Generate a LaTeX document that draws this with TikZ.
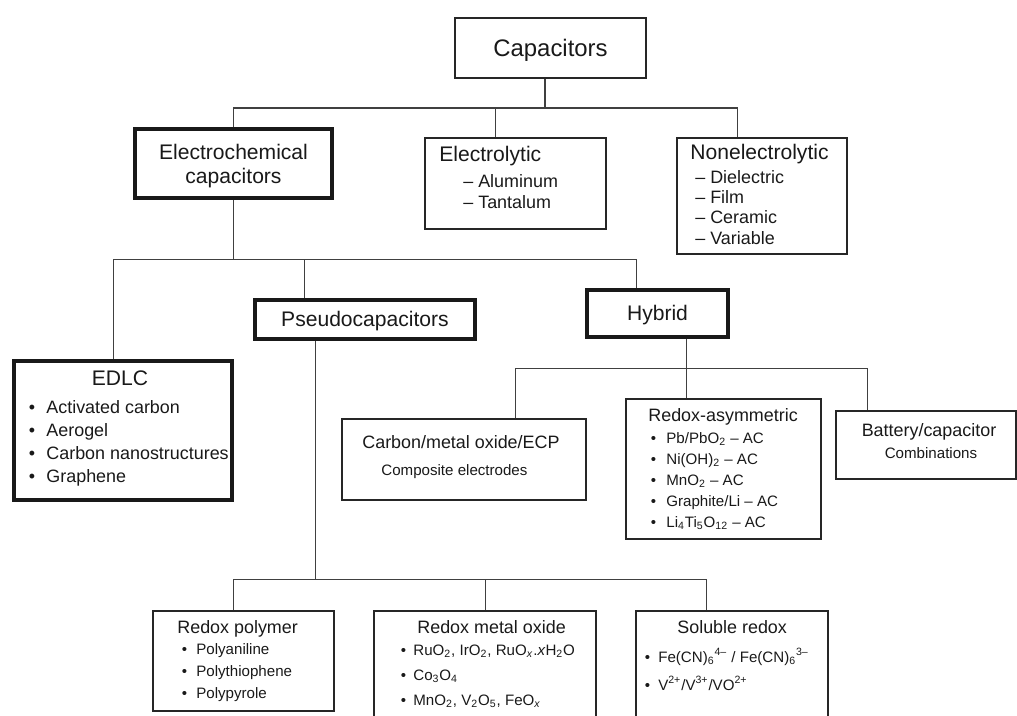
\documentclass[tikz,border=0pt]{standalone}
\usepackage{fontspec}
\setmainfont{Liberation Sans}
\usetikzlibrary{fit,calc}

\tikzset{
  box/.style={draw=black!85, line width=0.7pt, inner sep=0pt},
  heavybox/.style={draw=black!90, line width=2pt, inner sep=0pt},
  conn/.style={draw=black!75, line width=0.7pt},
  txt/.style={inner sep=0pt, anchor=base west, text=black!90},
  ctxt/.style={inner sep=0pt, anchor=base, text=black!90},
  mtxt/.style={inner sep=0pt, text=black!90},
  fCap/.style={font=\fontsize{13.6}{16}\selectfont},
  fHead/.style={font=\fontsize{12}{13.7}\selectfont},
  fItem/.style={font=\fontsize{10.2}{12}\selectfont},
  fSmall/.style={font=\fontsize{8.6}{10}\selectfont},
}
\newcommand{\bl}[1]{\makebox[#1][l]{\textbullet}}

\begin{document}
\begin{tikzpicture}[x=0.02cm, y=-0.02cm]
  \useasboundingbox (0,0) rectangle (1017,716);
  \clip (0,0) rectangle (1017,716);

  % === top: capacitors ===
  \node[box, fit={(455,18) (646,78)}] (cap) {};
  \node[mtxt, fCap] (cap-t) at ($(cap.center)+(0,2)$) {Capacitors};

  \node[heavybox, fit={(135,129) (332,198)}] (ec) {};
  \node[mtxt, fHead, align=center] (ec-t) at ($(ec.center)+(0,3)$) {Electrochemical\\capacitors};

  \node[box, fit={(425,138) (606,229)}] (el) {};
  \node[txt, fHead] (el-t) at (439,162) {Electrolytic};
  \foreach \t [count=\i] in {Aluminum, Tantalum}
    \node[txt, fItem] (el-\i) at (463,167+21*\i) {– \t};

  \node[box, fit={(677,138) (847,254)}] (nel) {};
  \node[txt, fHead] (nel-t) at (690,159.5) {Nonelectrolytic};
  \foreach \t [count=\i] in {Dielectric, Film, Ceramic, Variable}
    \node[txt, fItem] (nel-\i) at (695,163+20.3*\i) {– \t};

  \coordinate (j1) at (545,108);
  \coordinate (el-in) at ($(el.north west)+(71,0)$);
  \coordinate (nel-in) at ($(nel.north west)+(61,0)$);
  \draw[conn] (cap.south -| j1) -- (j1);
  \draw[conn] (ec.north) |- (j1) -| (nel-in);
  \draw[conn] (el-in) -- (el-in |- j1);

  % === electrochemical capacitors ===
  \node[heavybox, fit={(14,361) (232,500)}] (edlc) {};
  \node[ctxt, fHead] (edlc-t) at (120,385.5) {EDLC};
  \foreach \t [count=\i] in {Activated carbon, Aerogel, Carbon nanostructures, Graphene}
    \node[txt, fItem] (edlc-\i) at (28.5,390.5+23*\i) {\bl{10pt}\t};

  \node[heavybox, fit={(255,300) (475,339)}] (pc) {};
  \node[mtxt, fHead] (pc-t) at ($(pc.center)+(0,2)$) {Pseudocapacitors};

  \node[heavybox, fit={(587,290) (728,337)}] (hy) {};
  \node[mtxt, fHead] (hy-t) at ($(hy.center)+(0,2)$) {Hybrid};

  \draw[conn] (ec.south) -- ++(0,60) coordinate (j2);
  \coordinate (edlc-in) at ($(edlc.north west)+(101,0)$);
  \coordinate (pc-in) at ($(pc.north west)+(51,0)$);
  \coordinate (hy-in) at ($(hy.north west)+(51,0)$);
  \draw[conn] (edlc-in) |- (j2) -| (hy-in);
  \draw[conn] (pc-in) -- (pc-in |- j2);

  % === hybrid ===
  \node[box, fit={(342,419) (586,500)}] (cmo) {};
  \node[txt, fItem] (cmo-t) at (362,448.3) {Carbon/metal oxide/ECP};
  \node[txt, fSmall] (cmo-s) at (381,475.4) {Composite electrodes};

  \node[box, fit={(626,399) (821,539)}] (ra) {};
  \node[txt, fItem] (ra-t) at (648,421.4) {Redox-asymmetric};
  \foreach \t [count=\i] in {Pb/PbO\textsubscript{2} – AC, Ni(OH)\textsubscript{2} – AC, MnO\textsubscript{2} – AC, Graphite/Li – AC, Li\textsubscript{4}Ti\textsubscript{5}O\textsubscript{12} – AC}
    \node[txt, fSmall] (ra-\i) at (650.4,422.5+21*\i) {\bl{8.9pt}\t};

  \node[box, fit={(836,411) (1016,479)}] (bc) {};
  \node[ctxt, fItem] (bc-t) at (929,436.4) {Battery/capacitor};
  \node[ctxt, fSmall] (bc-s) at (931,458.4) {Combinations};

  \coordinate (hy-out) at ($(hy.south west)+(101,0)$);
  \draw[conn] (hy-out) -- ++(0,30) coordinate (j3);
  \coordinate (cmo-in) at ($(cmo.north west)+(174,0)$);
  \coordinate (ra-in) at ($(ra.north west)+(61,0)$);
  \coordinate (bc-in) at ($(bc.north west)+(32,0)$);
  \draw[conn] (cmo-in) |- (j3) -| (bc-in);
  \draw[conn] (ra-in) -- (ra-in |- j3);

  % === pseudocapacitors ===
  \node[box, fit={(153,611) (334,711)}] (rp) {};
  \node[txt, fItem] (rp-t) at (177,633.4) {Redox polymer};
  \foreach \t [count=\i] in {Polyaniline, Polythiophene, Polypyrole}
    \node[txt, fSmall] (rp-\i) at (181.4,632.4+22*\i) {\bl{8.3pt}\t};

  \node[box, fit={(374,611) (596,740)}] (rmo) {};
  \node[txt, fItem] (rmo-t) at (417,633.4) {Redox metal oxide};
  \foreach \t [count=\i] in {{RuO\textsubscript{2}, IrO\textsubscript{2}, RuO\textsubscript{\textit{x}}.\textit{x}H\textsubscript{2}O}, Co\textsubscript{3}O\textsubscript{4}, {MnO\textsubscript{2}, V\textsubscript{2}O\textsubscript{5}, FeO\textsubscript{\textit{x}}}}
    \node[txt, fSmall] (rmo-\i) at (400.4,630.4+25*\i) {\bl{7.2pt}\t};

  \node[box, fit={(636,611) (828,740)}] (sr) {};
  \node[txt, fItem] (sr-t) at (677,633.4) {Soluble redox};
  \foreach \t [count=\i] in {Fe(CN)\textsubscript{6}\textsuperscript{4–} / Fe(CN)\textsubscript{6}\textsuperscript{3–}, V\textsuperscript{2+}/V\textsuperscript{3+}/VO\textsuperscript{2+}}
    \node[txt, fSmall] (sr-\i) at (644.4,634.4+28*\i) {\bl{7.7pt}\t};

  \coordinate (pc-out) at ($(pc.south west)+(62,0)$);
  \draw[conn] (pc-out) -- ++(0,239) coordinate (j4);
  \coordinate (rp-in) at ($(rp.north west)+(81,0)$);
  \coordinate (rmo-in) at ($(rmo.north west)+(112,0)$);
  \coordinate (sr-in) at ($(sr.north west)+(71,0)$);
  \draw[conn] (rp-in) |- (j4) -| (sr-in);
  \draw[conn] (rmo-in) -- (rmo-in |- j4);
\end{tikzpicture}
\end{document}
